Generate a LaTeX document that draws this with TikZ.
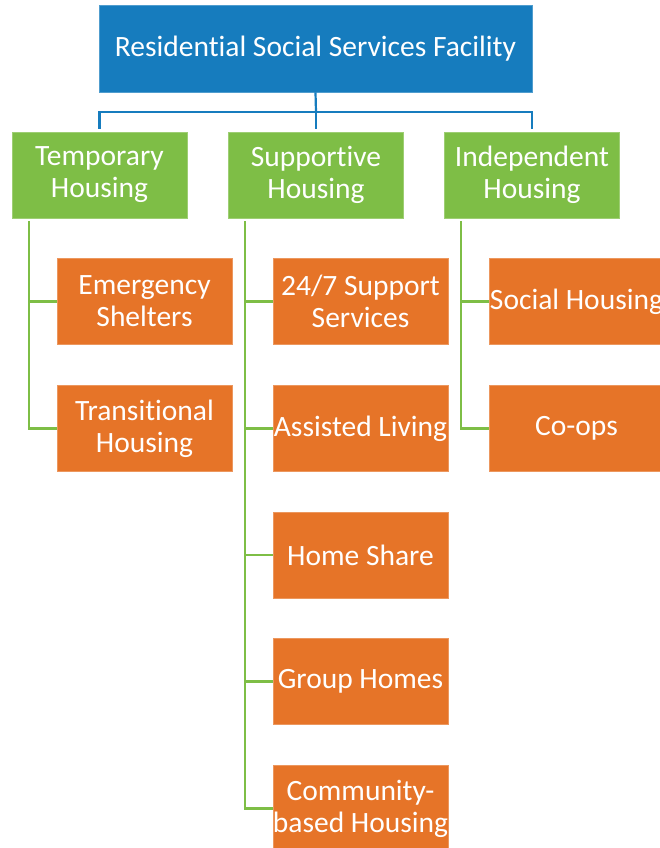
\documentclass[tikz,border=0pt]{standalone}
\usepackage{fontspec}
\setmainfont[Ligatures=NoCommon]{Carlito}
\definecolor{topblue}{RGB}{22,124,190}
\definecolor{leafgreen}{RGB}{126,190,70}
\definecolor{subor}{RGB}{230,116,40}
\begin{document}
\begin{tikzpicture}[x=1pt,y=-1pt,
  boxbase/.style={rectangle, inner sep=0pt, text=white, align=center,
    font=\fontsize{29.5}{32}\selectfont, line width=0.6pt},
  topbox/.style={boxbase, fill=topblue, draw=topblue!75!white, minimum width=433pt, minimum height=87pt},
  grbox/.style={boxbase, fill=leafgreen, draw=leafgreen!75!white, minimum width=175pt, minimum height=86pt},
  orbox/.style={boxbase, fill=subor, draw=subor!75!white, minimum width=175pt, minimum height=86pt},
  bline/.style={draw=topblue, line width=2.2pt},
  gline/.style={draw=leafgreen, line width=2.2pt}]
\useasboundingbox (0,0) rectangle (660,848);
\node[topbox] (top) at (315.5,48.5) {Residential Social Services Facility};
\node[grbox] (g1) at (99.5,175) {Temporary\\Housing};
\node[grbox] (g2) at (316,175) {Supportive\\Housing};
\node[grbox] (g3) at (532,175) {Independent\\Housing};
\node[orbox] (a1) at (144.5,301.5) {Emergency\\Shelters};
\node[orbox] (a2) at (144.5,428.5) {Transitional\\Housing};
\node[orbox] (b1) at (360.5,301.5) {24/7 Support\\Services};
\node[orbox] (b2) at (360.5,428.5) {Assisted Living};
\node[orbox] (b3) at (360.5,555) {Home Share};
\node[orbox] (b4) at (360.5,681.5) {Group Homes};
\node[orbox] (b5) at (360.5,808.5) {Community-\\based Housing};
\node[orbox] (c1) at (576.5,301.5) {Social Housing};
\node[orbox] (c2) at (576.5,428.5) {Co-ops};
% blue connectors
\coordinate (hb) at (316,112);
\coordinate (g1t) at (99.5,129);
\coordinate (g2t) at (316,129);
\coordinate (g3t) at (532,129);
\draw[bline] (top.south) -- (hb);
\draw[bline] (g1t) |- (hb);
\draw[bline] (g3t) |- (hb);
\draw[bline] (hb) -- (g2t);
% green connectors
\coordinate (t0) at (29,221);
\coordinate (s0) at (245,221);
\coordinate (i0) at (461,221);
\draw[gline] (t0) |- (a2.west);
\draw[gline] (t0) |- (a1.west);
\draw[gline] (s0) |- (b5.west);
\draw[gline] (s0) |- (b1.west);
\draw[gline] (s0) |- (b2.west);
\draw[gline] (s0) |- (b3.west);
\draw[gline] (s0) |- (b4.west);
\draw[gline] (i0) |- (c2.west);
\draw[gline] (i0) |- (c1.west);
\end{tikzpicture}
\end{document}
